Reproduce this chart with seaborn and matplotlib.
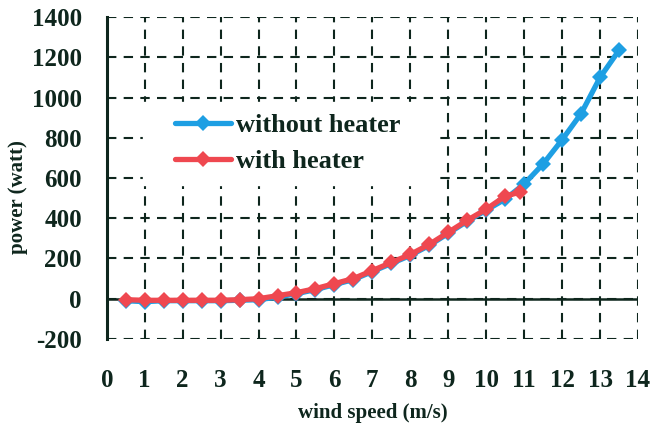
import pandas as pd
import matplotlib
matplotlib.use("Agg")
import matplotlib.pyplot as plt
import seaborn as sns

# data
speed_without = [0.5, 1, 1.5, 2, 2.5, 3, 3.5, 4, 4.5, 5, 5.5, 6, 6.5, 7, 7.5,
                 8, 8.5, 9, 9.5, 10, 10.5, 11, 11.5, 12, 12.5, 13, 13.5]
power_without = [-10, -15, -10, -10, -10, -10, -8, -5, 8, 25, 45, 70, 95, 135, 175,
                 215, 265, 325, 385, 440, 495, 570, 670, 790, 920, 1100, 1235]
speed_with = [0.5, 1, 1.5, 2, 2.5, 3, 3.5, 4, 4.5, 5, 5.5, 6, 6.5, 7, 7.5,
              8, 8.5, 9, 9.5, 10, 10.5, 10.9]
power_with = [-5, -8, -8, -8, -8, -8, -5, 0, 15, 30, 50, 75, 100, 140, 180,
              220, 270, 330, 390, 445, 510, 530]
series_names = ["without heater", "with heater"]
x_ticks = list(range(0, 15))
y_ticks = list(range(-200, 1401, 200))

df = pd.concat([
    pd.DataFrame({"speed": speed_without, "power": power_without, "series": series_names[0]}),
    pd.DataFrame({"speed": speed_with, "power": power_with, "series": series_names[1]}),
])

sns.set_style("white")
plt.rcParams["font.family"] = ["Liberation Serif", "DejaVu Serif"]
plt.rcParams["font.weight"] = "bold"
plt.rcParams["axes.unicode_minus"] = False
ink = "#0e261d"

fig = plt.figure(figsize=(6.55, 4.29), dpi=100)
ax = fig.add_axes([0.163, 0.21, 0.811, 0.75])

sns.lineplot(data=df, x="speed", y="power", hue="series", hue_order=series_names,
             palette=["#1e9fe3", "#ef4850"], style="series", markers=["D", "D"],
             dashes=False, linewidth=3.8, markersize=8.5, markeredgewidth=0,
             sort=False, ax=ax)

ax.set_xlim(0, 14)
ax.set_ylim(-200, 1400)
ax.set_xticks(x_ticks)
ax.set_yticks(y_ticks)
ax.grid(True, linestyle=(0, (4.5, 3.5)), color=ink, linewidth=1.5)
ax.set_axisbelow(True)

for side in ["top", "right", "bottom"]:
    ax.spines[side].set_visible(False)
ax.spines["left"].set_color(ink)
ax.spines["left"].set_linewidth(2.2)
ax.axhline(0, color=ink, linewidth=1.8, zorder=1.5)

ax.tick_params(axis="x", length=0, pad=22, labelsize=18, labelcolor=ink)
ax.tick_params(axis="y", direction="inout", length=8, width=2, color=ink,
               pad=14, labelsize=18, labelcolor=ink)
for lab in ax.get_xticklabels() + ax.get_yticklabels():
    lab.set_fontweight("bold")

ax.set_xlabel("wind speed (m/s)", fontsize=15, fontweight="bold", color=ink)
ax.set_ylabel("power (watt)", fontsize=15, fontweight="bold", color=ink)
ax.xaxis.set_label_coords(0.5, -0.2)
ax.yaxis.set_label_coords(-0.148, 0.44)

# white legend box without a visible border, a bit wider than its content
leg = ax.legend(loc="upper left", bbox_to_anchor=(0.068, 0.736), frameon=True,
                fancybox=False, edgecolor="white", facecolor="white", framealpha=1,
                prop={"size": 19, "weight": "bold"}, handlelength=2.1,
                borderpad=0.45, borderaxespad=0, labelspacing=0.45,
                handletextpad=0.2)
leg._legend_box.set_width(266)
for t in leg.get_texts():
    t.set_color(ink)
for h in leg.get_lines():
    h.set_linewidth(3.8)
    h.set_markersize(8.5)

fig.savefig("out.png", dpi=100)
